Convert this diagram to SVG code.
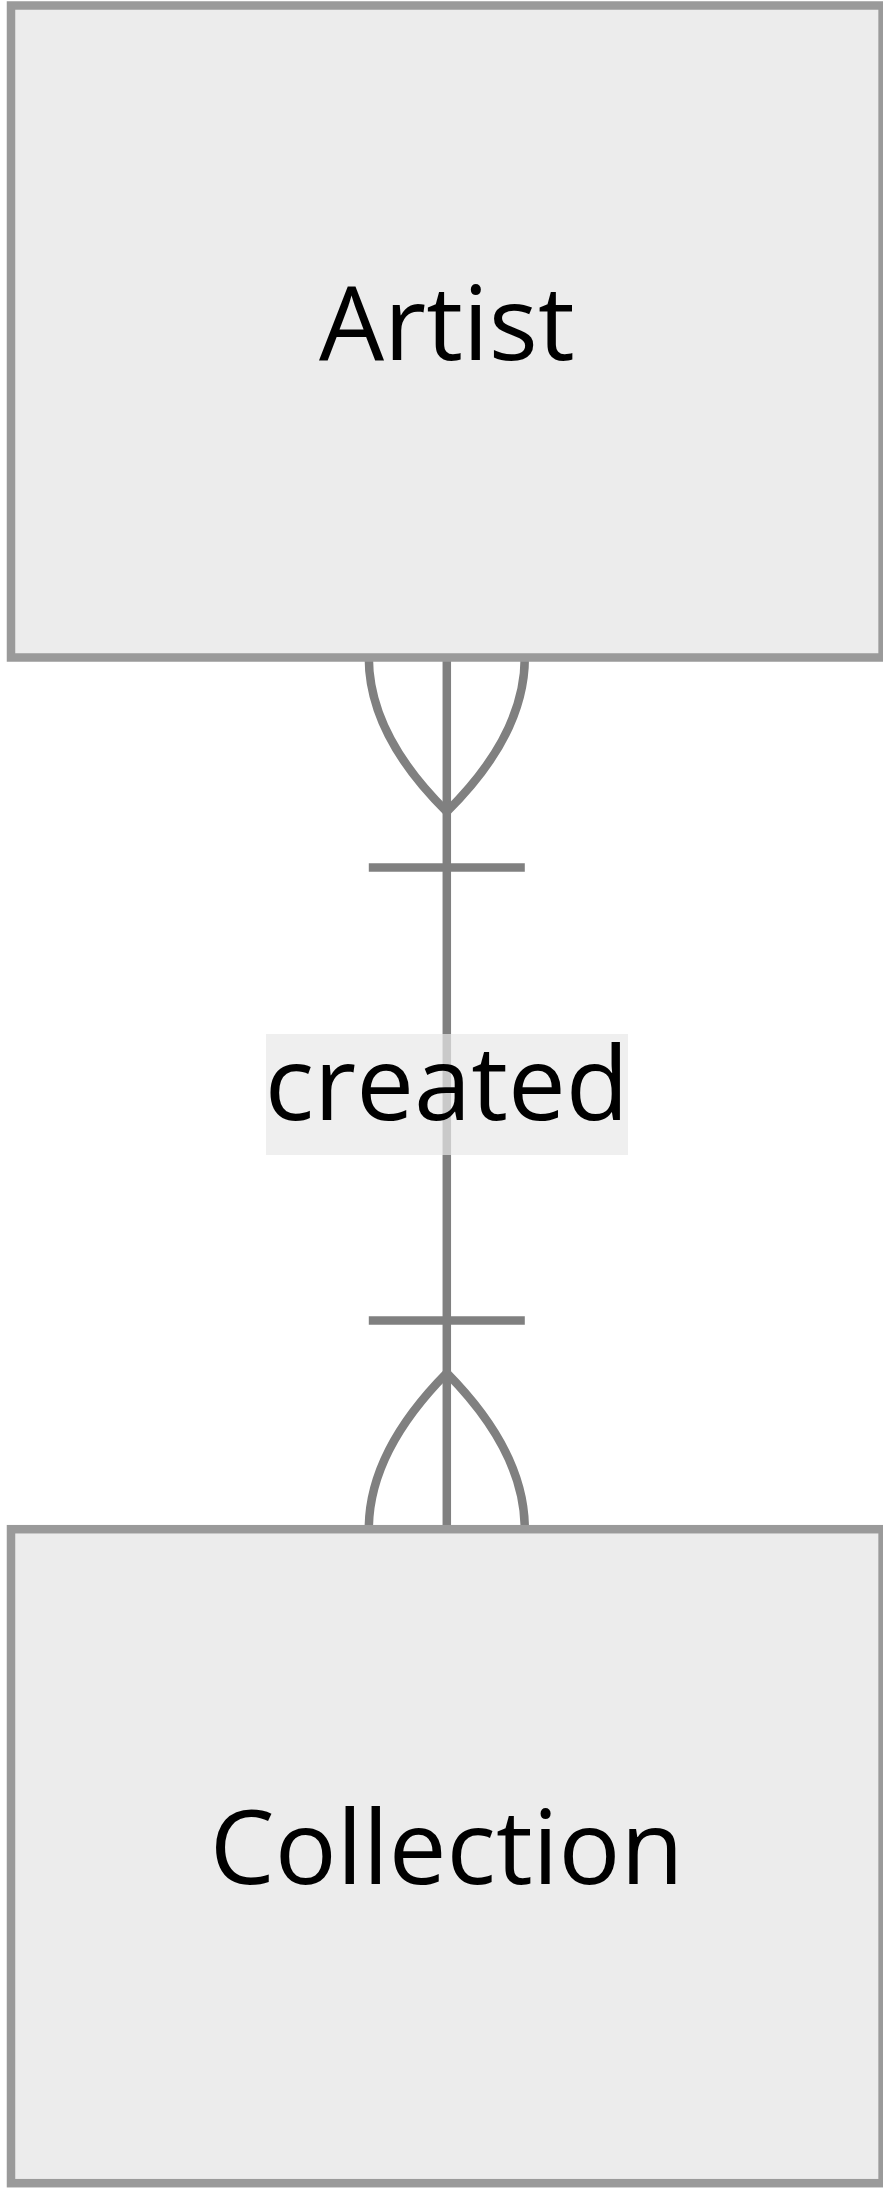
<svg xmlns="http://www.w3.org/2000/svg" width="883" height="2190" viewBox="0 0 883 2190">
  <style>
    .entity { fill: #ECECEC; stroke: #9A9A9A; stroke-width: 8.5; }
    .rel { fill: none; stroke: #808080; stroke-width: 8.5; }
    .lblbox { fill: #E8E8E8; opacity: 0.7; }
    .txt { font-family: "Open Sans", "Liberation Sans", Arial, sans-serif; font-size: 103px; fill: #000000; text-anchor: middle; }
  </style>
  <rect width="883" height="2190" fill="#FFFFFF"/>
  <g id="connectors">
    <path class="rel" d="M446.8,657.5 L446.8,1529.2"/>
    <path class="rel" d="M368.8,657.5 Q368.8,734.6 446.8,811.7 Q524.8,734.6 524.8,657.5"/>
    <path class="rel" d="M368.8,867.5 L524.8,867.5"/>
    <path class="rel" d="M368.8,1529.2 Q368.8,1452 446.8,1373 Q524.8,1452 524.8,1529.2"/>
    <path class="rel" d="M368.8,1320.5 L524.8,1320.5"/>
    <rect class="lblbox" x="266" y="1034" width="362" height="121"/>
    <text class="txt" x="446.8" y="1120">created</text>
  </g>
  <g id="artist">
    <rect class="entity" x="11" y="5.5" width="871.6" height="652"/>
    <text class="txt" x="446.8" y="360">Artist</text>
  </g>
  <g id="collection">
    <rect class="entity" x="11" y="1529.2" width="871.6" height="654"/>
    <text class="txt" x="446.8" y="1884">Collection</text>
  </g>
</svg>
